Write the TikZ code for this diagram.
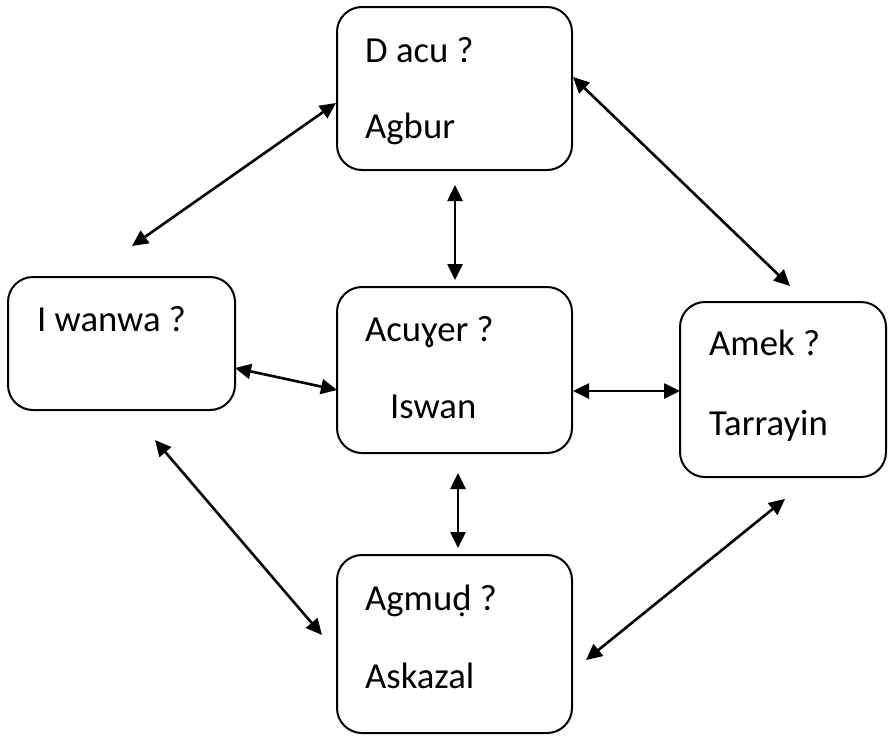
\documentclass[tikz,border=0pt]{standalone}
\usepackage{fontspec}
\setmainfont{Carlito}
\usetikzlibrary{arrows.meta}
\tikzset{
  box/.style={draw=black, line width=2pt, rounded corners=25pt, inner sep=0pt},
  lbl/.style={anchor=base west, inner sep=0pt, font=\fontsize{36.7}{40}\selectfont},
  arr/.style={line width=2.6pt, {Triangle[length=16pt,width=15pt]}-{Triangle[length=16pt,width=15pt]}}
}
\begin{document}
\begin{tikzpicture}[x=1pt,y=-1pt]
\useasboundingbox (0,0) rectangle (888,736);
% boxes
\node[box, minimum width=235pt, minimum height=163pt] (top) at (454.5,88.5) {};
\node[box, minimum width=227pt, minimum height=133pt] (left) at (121.5,343.5) {};
\node[box, minimum width=235pt, minimum height=166pt] (mid) at (454.5,370) {};
\node[box, minimum width=206pt, minimum height=175pt] (right) at (783,389.5) {};
\node[box, minimum width=235pt, minimum height=178pt] (bot) at (454.5,644) {};
% texts
\node[lbl] (t1) at (365,62) {D acu ?};
\node[lbl] (t2) at (365,138) {Agbur};
\node[lbl] (t3) at (37,331) {I wanwa ?};
\node[lbl] (t4) at (365,341) {Acuɣer ?};
\node[lbl] (t5) at (390,418) {Iswan};
\node[lbl] (t6) at (709,355) {Amek ?};
\node[lbl] (t7) at (709,435) {Tarrayin};
\node[lbl] (t8) at (365,610) {Agmuḍ ?};
\node[lbl] (t9) at (365,688) {Askazal};
% arrow end points
\coordinate (a1s) at (132,246); \coordinate (a1e) at (336,103);
\coordinate (a2s) at (573,77);  \coordinate (a2e) at (790,286);
\coordinate (a3s) at (455,185); \coordinate (a3e) at (455,280);
\coordinate (a4s) at (235,368); \coordinate (a4e) at (337,390);
\coordinate (a5s) at (573,391); \coordinate (a5e) at (680,391);
\coordinate (a6s) at (458,473); \coordinate (a6e) at (458,548);
\coordinate (a7s) at (155,440); \coordinate (a7e) at (322,635);
\coordinate (a8s) at (785,499); \coordinate (a8e) at (586,660);
\draw[arr] (a1s) -- (a1e);
\draw[arr] (a2s) -- (a2e);
\draw[arr] (a3s) -- (a3e);
\draw[arr] (a4s) -- (a4e);
\draw[arr] (a5s) -- (a5e);
\draw[arr] (a6s) -- (a6e);
\draw[arr] (a7s) -- (a7e);
\draw[arr] (a8s) -- (a8e);
\end{tikzpicture}
\end{document}
